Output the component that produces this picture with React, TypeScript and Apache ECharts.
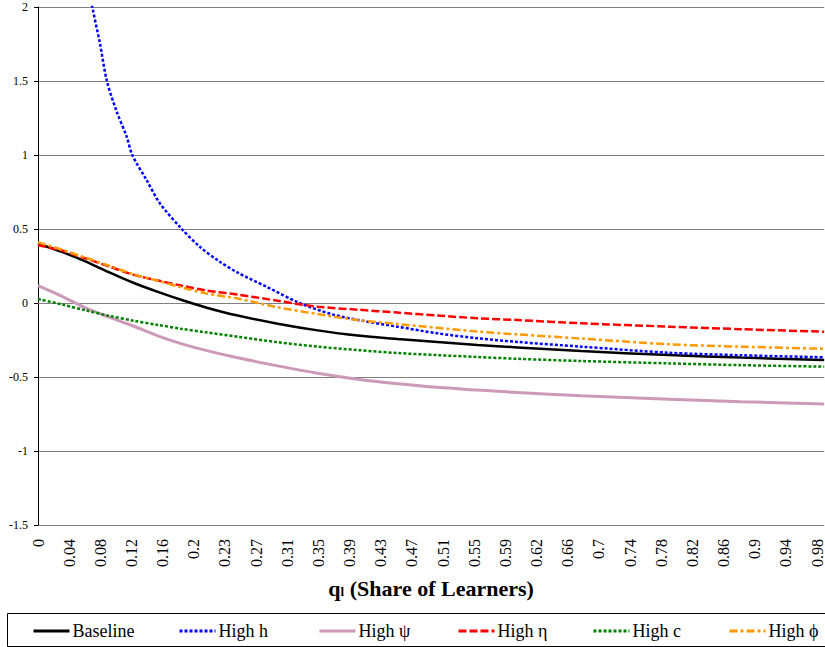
import React, { useEffect, useRef } from "react";
import * as echarts from "echarts";

// x-axis tick labels (every 0.039 of q)
const tickLabels = ["0", "0.04", "0.08", "0.12", "0.16", "0.2", "0.23", "0.27", "0.31", "0.35", "0.39", "0.43", "0.47", "0.51", "0.55", "0.59", "0.62", "0.66", "0.7", "0.74", "0.78", "0.82", "0.86", "0.9", "0.94", "0.98"];
const TICK_STEP = 0.039;
const Q_MAX = 0.984;

// shared q grid (share of learners)
const qGrid = [0, 0.03, 0.06, 0.09, 0.12, 0.15, 0.18, 0.21, 0.25, 0.3, 0.35, 0.4, 0.45, 0.5, 0.55, 0.6, 0.68, 0.79, 0.88, 0.984];

const baseline = [0.4, 0.345, 0.28, 0.205, 0.135, 0.075, 0.02, -0.03, -0.085, -0.14, -0.185, -0.22, -0.243, -0.263, -0.283, -0.3, -0.325, -0.352, -0.369, -0.385];
const highPsi = [0.117, 0.045, -0.035, -0.097, -0.157, -0.222, -0.276, -0.32, -0.37, -0.425, -0.475, -0.515, -0.545, -0.57, -0.588, -0.605, -0.627, -0.65, -0.667, -0.682];
const highEta = [0.39, 0.355, 0.3, 0.245, 0.19, 0.152, 0.117, 0.085, 0.057, 0.015, -0.025, -0.045, -0.065, -0.085, -0.103, -0.115, -0.137, -0.16, -0.177, -0.194];
const highC = [0.027, -0.01, -0.05, -0.088, -0.12, -0.148, -0.175, -0.198, -0.228, -0.265, -0.295, -0.318, -0.338, -0.352, -0.365, -0.377, -0.392, -0.408, -0.42, -0.43];
const highPhi = [0.41, 0.36, 0.305, 0.25, 0.193, 0.15, 0.105, 0.065, 0.03, -0.029, -0.075, -0.115, -0.142, -0.168, -0.193, -0.212, -0.24, -0.279, -0.295, -0.309];

// High h has its own grid (steep near the origin)
const qHighH = [0.045, 0.055, 0.068, 0.0775, 0.086, 0.098, 0.111, 0.118, 0.136, 0.1525, 0.18, 0.2025, 0.2275, 0.25, 0.286, 0.3275, 0.369, 0.411, 0.45, 0.5, 0.55, 0.6, 0.68, 0.79, 0.88, 0.984];
const highH = [2.85, 2.4, 2.0, 1.755, 1.505, 1.3, 1.124, 1.0, 0.83, 0.674, 0.5, 0.38, 0.279, 0.205, 0.11, 0.0, -0.078, -0.125, -0.16, -0.205, -0.238, -0.263, -0.295, -0.336, -0.353, -0.367];

const seriesNames = ["Baseline", "High h", "High ψ", "High η", "High c", "High ϕ"];

const FONT = "Liberation Serif, Times New Roman, serif";

function pairs(xs: number[], ys: number[]) {
  return xs.map((x, i) => [x, ys[i]]);
}

export default function App() {
  const ref = useRef<HTMLDivElement>(null);
  useEffect(() => {
    document.body.style.margin = "0";
    if (!ref.current) return;
    const chart = echarts.init(ref.current, undefined, { renderer: "svg" });

    const styles: any[] = [
      { color: "#000000", width: 2.5, type: "solid" },
      { color: "#0000ff", width: 2.5, type: [3, 2] },
      { color: "#cc99b8", width: 3, type: "solid" },
      { color: "#ff0000", width: 2.5, type: [8, 3] },
      { color: "#008000", width: 2.5, type: [3, 2] },
      { color: "#ff9900", width: 2.5, type: [8, 3, 3, 3] },
    ];
    const datas = [
      pairs(qGrid, baseline),
      pairs(qHighH, highH),
      pairs(qGrid, highPsi),
      pairs(qGrid, highEta),
      pairs(qGrid, highC),
      pairs(qGrid, highPhi),
    ];
    const legendLeft = [32, 178, 318, 457, 592, 728];

    chart.setOption({
      animation: false,
      backgroundColor: "#ffffff",
      textStyle: { fontFamily: FONT },
      grid: { left: 38, right: 0, top: 7, bottom: 122, containLabel: false },
      xAxis: {
        type: "value",
        min: 0,
        max: Q_MAX,
        interval: TICK_STEP,
        axisLine: { show: true, lineStyle: { color: "#808080", width: 1 } },
        axisTick: { show: false },
        splitLine: { show: false },
        axisLabel: {
          rotate: 90,
          margin: 14,
          fontSize: 16,
          fontFamily: FONT,
          color: "#000000",
          showMaxLabel: true,
          formatter: (v: number) => {
            const i = Math.round(v / TICK_STEP);
            if (Math.abs(v - i * TICK_STEP) > 1e-4) return "";
            return tickLabels[i] ?? "";
          },
        },
        name: "{q|q}{s|l}{t| (Share of Learners)}",
        nameLocation: "middle",
        nameGap: 52,
        nameTextStyle: {
          fontFamily: FONT,
          rich: {
            q: { fontFamily: FONT, fontSize: 22, fontWeight: "bold", color: "#000" },
            s: { fontFamily: FONT, fontSize: 13, fontWeight: "bold", color: "#000", padding: [6, 0, 0, 0] },
            t: { fontFamily: FONT, fontSize: 22, fontWeight: "bold", color: "#000" },
          },
        },
      },
      yAxis: {
        type: "value",
        min: -1.5,
        max: 2,
        interval: 0.5,
        axisLine: { show: true, lineStyle: { color: "#000000", width: 1 } },
        axisTick: { show: true, length: 4, lineStyle: { color: "#000000" } },
        splitLine: { show: true, lineStyle: { color: "#808080", width: 1 } },
        axisLabel: { fontSize: 12, fontFamily: FONT, color: "#000000", margin: 10 },
      },
      legend: seriesNames.map((n, i) => ({
        data: [n],
        left: legendLeft[i],
        top: 622,
        padding: 0,
        itemWidth: 36,
        itemHeight: 18,
        itemStyle: { opacity: 0, color: "rgba(0,0,0,0)", borderWidth: 0 },
        lineStyle: { width: 3 },
        textStyle: { fontFamily: FONT, fontSize: 18, color: "#000000", padding: [0, 0, 0, -2] },
      })),
      graphic: [
        {
          type: "rect",
          shape: { x: 7.5, y: 613.5, width: 830, height: 33 },
          style: { fill: "none", stroke: "#000000", lineWidth: 1 },
          silent: true,
        },
      ],
      series: seriesNames.map((n, i) => ({
        name: n,
        type: "line",
        data: datas[i],
        showSymbol: false,
        symbol: "none",
        smooth: 0.3,
        clip: true,
        lineStyle: styles[i],
        itemStyle: { color: styles[i].color },
      })),
    });
    return () => chart.dispose();
  }, []);
  return <div ref={ref} style={{ width: 825, height: 647 }} />;
}
